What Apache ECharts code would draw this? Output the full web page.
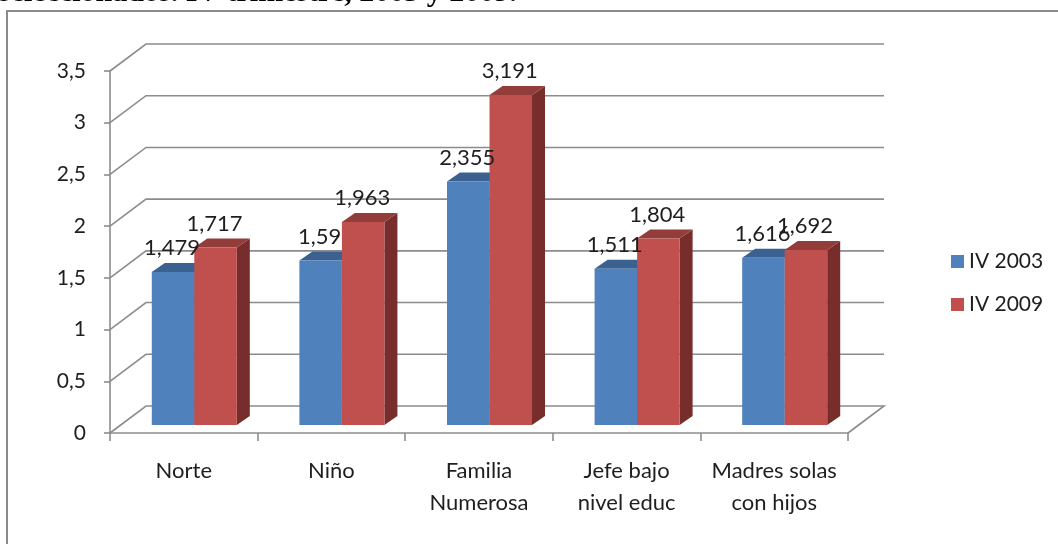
<!DOCTYPE html>
<html>
<head>
<meta charset="utf-8">
<script src="https://cdn.jsdelivr.net/npm/echarts@6/dist/echarts.min.js"></script>
<style>
  html, body { margin: 0; padding: 0; background: #fff; }
  #chart { width: 1058px; height: 544px; }
</style>
</head>
<body>
<div id="chart"></div>
<script>
// Categories and values
const categories = ['Norte', 'Niño', 'Familia\nNumerosa', 'Jefe bajo\nnivel educ', 'Madres solas\ncon hijos'];
const seriesNames = ['IV 2003', 'IV 2009'];
const values2003 = [1.479, 1.59, 2.355, 1.511, 1.616];
const values2009 = [1.717, 1.963, 3.191, 1.804, 1.692];
const yTicks = [0, 0.5, 1, 1.5, 2, 2.5, 3, 3.5];
const heading = 'seleccionados. IV trimestre, 2003 y 2009.';

// Look of the pseudo-3D frame and columns
const FONT = 'Lato';
const TEXT_COLOR = '#1e1e1e';
const GRID_COLOR = '#8c8c8c';
const WALL_DX = 36, WALL_DY = -27;      // depth of the back wall
const BAR_SHIFT_X = 10.5, BAR_SHIFT_Y = -8; // columns sit a little behind the front edge
const BAR_DX = 13, BAR_DY = -9;         // thickness of each column
const BAR_FRAC = 0.288;                 // column width as share of a category
const palette = [
  { front: '#4f81bd', top: '#3b6190', side: '#2f4f77' },
  { front: '#c0504d', top: '#933d3a', side: '#772d2b' }
];

const fmt = v => String(v).replace('.', ',');

function columnGeometry(api, side) {
  const idx = api.value(0), v = api.value(1);
  const base = api.coord([idx, 0]);
  const top = api.coord([idx, v]);
  const w = api.size([1, 0])[0] * BAR_FRAC;
  const x0 = base[0] + BAR_SHIFT_X + (side === 0 ? -w : 0);
  return { x0, w, yb: base[1] + BAR_SHIFT_Y, yt: top[1] + BAR_SHIFT_Y, v };
}

function columnRenderer(side) {
  const c = palette[side];
  return function (params, api) {
    const g = columnGeometry(api, side);
    const x1 = g.x0 + g.w;
    return {
      type: 'group',
      children: [
        { type: 'polygon', shape: { points: [[x1, g.yt], [x1 + BAR_DX, g.yt + BAR_DY], [x1 + BAR_DX, g.yb + BAR_DY], [x1, g.yb]] },
          style: { fill: c.side } },
        { type: 'polygon', shape: { points: [[g.x0, g.yt], [x1, g.yt], [x1 + BAR_DX, g.yt + BAR_DY], [g.x0 + BAR_DX, g.yt + BAR_DY]] },
          style: { fill: c.top } },
        { type: 'rect', shape: { x: g.x0, y: g.yt, width: g.w, height: g.yb - g.yt },
          style: { fill: c.front } }
      ]
    };
  };
}

function labelRenderer(side) {
  return function (params, api) {
    const g = columnGeometry(api, side);
    return {
      type: 'text',
      x: g.x0 + g.w / 2 - 1,
      y: g.yt - 24,
      style: { text: fmt(g.v), align: 'center', verticalAlign: 'middle',
               fontSize: 22, fontFamily: FONT, fill: TEXT_COLOR }
    };
  };
}

// Back wall gridlines with their diagonal link to the value axis
function wallRenderer(params, api) {
  const cs = params.coordSys;
  const v = api.value(1);
  const y = api.coord([0, v])[1];
  const left = cs.x, right = cs.x + cs.width;
  const pts = [[left, y], [left + WALL_DX, y + WALL_DY], [right + WALL_DX, y + WALL_DY]];
  if (v === 0) pts.push([right, y]);
  return { type: 'polyline', shape: { points: pts },
           style: { stroke: GRID_COLOR, lineWidth: 1.6, fill: null } };
}

const chart = echarts.init(document.getElementById('chart'), null, { renderer: 'canvas' });

chart.setOption({
  animation: false,
  textStyle: { fontFamily: FONT },
  graphic: [
    { type: 'rect', silent: true, z: -10,
      shape: { x: 7, y: 11, width: 1100, height: 600 },
      style: { fill: null, stroke: '#8a8a8a', lineWidth: 2 } },
    { type: 'text', silent: true, x: -1, y: 8,
      style: { text: heading, verticalAlign: 'bottom', align: 'left',
               font: 'bold 30px "Liberation Serif"', fill: '#000' } }
  ],
  grid: { left: 110, right: 210, top: 71, bottom: 111, outerBoundsMode: 'none' },
  legend: {
    orient: 'vertical', left: 946, top: 246,
    data: seriesNames, icon: 'rect', itemWidth: 13, itemHeight: 13,
    itemGap: 22, selectedMode: false,
    textStyle: { fontSize: 21, lineHeight: 21, color: TEXT_COLOR, fontFamily: FONT }
  },
  xAxis: {
    type: 'category', data: categories,
    axisLine: { lineStyle: { color: GRID_COLOR, width: 1.6 } },
    axisTick: { show: true, length: 8, lineStyle: { color: GRID_COLOR, width: 1.6 } },
    axisLabel: { margin: 22, fontSize: 22, lineHeight: 32, color: TEXT_COLOR, fontFamily: FONT, interval: 0 },
    splitLine: { show: false }
  },
  yAxis: {
    type: 'value', min: 0, max: 3.5, interval: 0.5,
    axisLine: { show: true, lineStyle: { color: GRID_COLOR, width: 1.6 } },
    axisTick: { show: true, length: 6, lineStyle: { color: GRID_COLOR, width: 1.6 } },
    axisLabel: { margin: 24, fontSize: 21, color: TEXT_COLOR, fontFamily: FONT, formatter: v => fmt(v) },
    splitLine: { show: false }
  },
  series: [
    { type: 'custom', name: 'pared', silent: true, z: 1, renderItem: wallRenderer,
      data: yTicks.map(v => [0, v]), encode: { x: 0, y: 1 } },
    { type: 'custom', name: seriesNames[0], z: 2, itemStyle: { color: palette[0].front },
      renderItem: columnRenderer(0), data: values2003.map((v, i) => [i, v]), encode: { x: 0, y: 1 } },
    { type: 'custom', name: seriesNames[1], z: 3, itemStyle: { color: palette[1].front },
      renderItem: columnRenderer(1), data: values2009.map((v, i) => [i, v]), encode: { x: 0, y: 1 } },
    { type: 'custom', name: 'etiquetas 2003', silent: true, z: 5,
      renderItem: labelRenderer(0), data: values2003.map((v, i) => [i, v]), encode: { x: 0, y: 1 } },
    { type: 'custom', name: 'etiquetas 2009', silent: true, z: 6,
      renderItem: labelRenderer(1), data: values2009.map((v, i) => [i, v]), encode: { x: 0, y: 1 } }
  ]
});
</script>
</body>
</html>
